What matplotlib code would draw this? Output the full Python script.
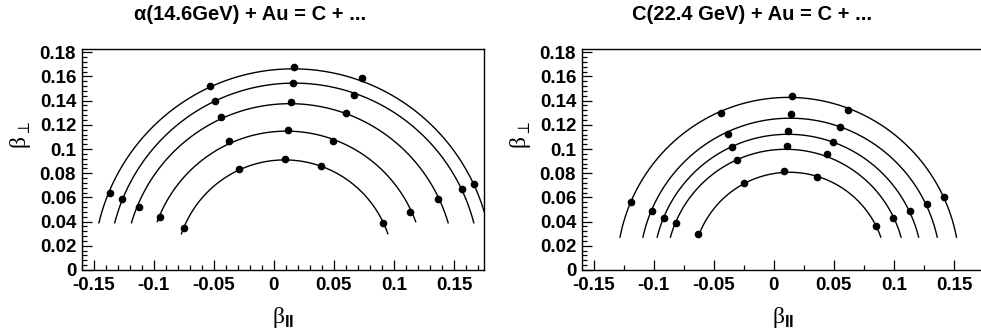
# Reproduction des deux figures beta_perp / beta_par (style ROOT)
import numpy as np
import matplotlib
matplotlib.use("Agg")
import matplotlib.pyplot as plt
from matplotlib.ticker import MultipleLocator, FuncFormatter

# ---------------------------------------------------------------------------
# Données
# ---------------------------------------------------------------------------

titre_alpha = "α(14.6GeV) + Au = C + ..."
titre_carbone = "C(22.4 GeV) + Au = C + ..."

# Panneau gauche : alpha + Au, 5 arcs de 5 points chacun (de l'extérieur vers l'intérieur)
bpar_alpha = [
    [-0.1367, -0.0528, 0.0167, 0.0731, 0.1667],
    [-0.1267, -0.0486, 0.0158, 0.0667, 0.1564],
    [-0.1125, -0.0442, 0.0139, 0.0598, 0.1370],
    [-0.0950, -0.0372, 0.0117, 0.0489, 0.1133],
    [-0.0750, -0.0292, 0.0092, 0.0394, 0.0911],
]
bperp_alpha = [
    [0.0637, 0.1517, 0.1682, 0.1591, 0.0711],
    [0.0590, 0.1401, 0.1545, 0.1448, 0.0670],
    [0.0521, 0.1267, 0.1388, 0.1297, 0.0587],
    [0.0441, 0.1066, 0.1154, 0.1069, 0.0482],
    [0.0348, 0.0835, 0.0917, 0.0856, 0.0391],
]
# Paramètres des arcs ajustés (centre sur l'axe beta_par, rayon, coupure basse)
centre_alpha = [0.0160, 0.0170, 0.0133, 0.0105, 0.0090]
rayon_alpha = [0.1663, 0.1545, 0.1375, 0.1148, 0.0910]
coupure_alpha = [0.039, 0.039, 0.039, 0.040, 0.030]

# Panneau droit : C + Au
bpar_carbone = [
    [-0.1190, -0.0443, 0.0153, 0.0615, 0.1418],
    [-0.1018, -0.0385, 0.0139, 0.0551, 0.1274],
    [-0.0916, -0.0346, 0.0122, 0.0490, 0.1133],
    [-0.0816, -0.0310, 0.0111, 0.0443, 0.0992],
    [-0.0628, -0.0246, 0.0086, 0.0357, 0.0850],
]
bperp_carbone = [
    [0.0563, 0.1300, 0.1437, 0.1321, 0.0606],
    [0.0485, 0.1126, 0.1286, 0.1186, 0.0545],
    [0.0432, 0.1020, 0.1145, 0.1057, 0.0485],
    [0.0386, 0.0906, 0.1024, 0.0958, 0.0427],
    [0.0297, 0.0721, 0.0815, 0.0770, 0.0366],
]
centre_carbone = [0.0120, 0.0135, 0.0117, 0.0099, 0.0130]
rayon_carbone = [0.1427, 0.1255, 0.1122, 0.0998, 0.0808]
coupure_carbone = [0.0272, 0.0272, 0.0272, 0.0272, 0.0272]

police = "Liberation Sans"
plt.rcParams["mathtext.fontset"] = "custom"
plt.rcParams["mathtext.bf"] = "Liberation Sans:bold"
plt.rcParams["mathtext.rm"] = "Liberation Serif"


def format_root(v, pos):
    # ROOT écrit 0.1 et non 0.10
    if abs(v) < 1e-9:
        return "0"
    return f"{v:g}"


def tracer_panneau(ax, bpar, bperp, centres, rayons, coupures, pas_majeur, pas_mineur):
    for xs, ys, xc, r, ymin in zip(bpar, bperp, centres, rayons, coupures):
        # arc de cercle ajusté
        t0 = np.arcsin(ymin / r)
        t = np.linspace(t0, np.pi - t0, 300)
        ax.plot(xc + r * np.cos(t), r * np.sin(t), color="black", lw=1.0)
        ax.plot(xs, ys, "o", color="black", ms=4.5, mec="black")

    ax.set_xlim(-0.16, 0.175)
    ax.set_ylim(0, 0.1827)

    ax.xaxis.set_major_locator(MultipleLocator(pas_majeur))
    ax.xaxis.set_minor_locator(MultipleLocator(pas_mineur))
    ax.yaxis.set_major_locator(MultipleLocator(0.02))
    ax.yaxis.set_minor_locator(MultipleLocator(0.004))
    ax.xaxis.set_major_formatter(FuncFormatter(format_root))
    ax.yaxis.set_major_formatter(FuncFormatter(format_root))

    ax.tick_params(which="both", direction="in", top=False, right=False, width=0.9)
    ax.tick_params(which="major", length=7)
    ax.tick_params(which="minor", length=3.5)
    ax.tick_params(axis="x", which="major", pad=5)
    ax.tick_params(axis="y", which="major", pad=4)
    for lab in ax.get_xticklabels() + ax.get_yticklabels():
        lab.set_fontfamily(police)
        lab.set_fontweight("bold")
        lab.set_fontsize(13.5)
    for sp in ax.spines.values():
        sp.set_linewidth(1.0)

    ax.text(0.5, -0.215, r"β$_{\mathbf{II}}$", transform=ax.transAxes,
            ha="center", va="center", fontsize=17, family="Liberation Serif")
    ax.text(-0.152, 0.61, r"β$_{\perp}$", transform=ax.transAxes, rotation=90,
            ha="center", va="center", fontsize=17, family="Liberation Serif")


fig = plt.figure(figsize=(9.81, 3.35), dpi=100)

ax1 = fig.add_axes([81.7 / 981, 65 / 335, 402.3 / 981, 221 / 335])
tracer_panneau(ax1, bpar_alpha, bperp_alpha, centre_alpha, rayon_alpha,
               coupure_alpha, 0.05, 0.01)

# le panneau droit déborde un peu de l'image, comme dans l'original
ax2 = fig.add_axes([581.7 / 981, 65 / 335, 402.3 / 981, 221 / 335])
tracer_panneau(ax2, bpar_carbone, bperp_carbone, centre_carbone, rayon_carbone,
               coupure_carbone, 0.05, 0.025)

fig.text(250 / 981, 1 - 15 / 335, titre_alpha, ha="center", va="center",
         fontsize=14.5, fontweight="bold", family=[police, "DejaVu Sans"])
fig.text(752 / 981, 1 - 15 / 335, titre_carbone, ha="center", va="center",
         fontsize=14.5, fontweight="bold", family=police)

fig.savefig("out.png", dpi=100, facecolor="white")
